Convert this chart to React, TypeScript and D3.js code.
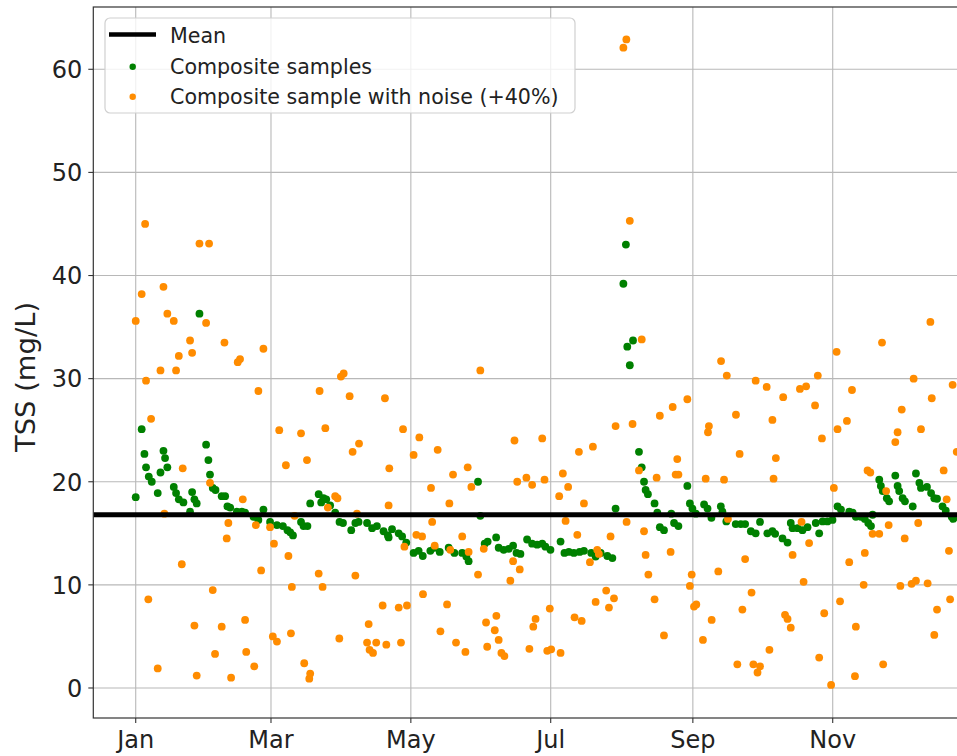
import React from "react";
import * as d3 from "d3";

// ---- Data (day offsets from 1 Jan, TSS in mg/L) ----
const compositeDays = [
  0, 2.6, 3.8, 4.5, 5.7, 7.0, 9.6, 10.8, 12.1, 12.8, 13.8, 16.6, 17.6, 18.8, 20.8, 23.7, 24.6, 25.6, 26.6, 27.8,
  30.7, 31.7, 32.4, 33.6, 34.8, 37.5, 39.0, 40.0, 41.2, 44.1, 46.3, 47.7, 51.4, 53.5, 55.7, 58.6, 61.6, 64.2, 66.2, 67.4,
  68.6, 72.1, 73.2, 74.9, 76.1, 79.8, 80.9, 81.9, 83.1, 84.8, 87.0, 88.9, 90.4, 94.0, 95.8, 97.2, 100.9, 103.1, 105.2, 108.1,
  110.0, 110.3, 111.8, 114.7, 116.2, 118.0, 121.2, 123.4, 125.2, 128.5, 130.3, 132.6, 136.5, 139.0, 142.4, 144.2, 145.2, 149.3, 150.3, 152.2,
  153.5, 157.2, 158.3, 160.5, 162.7, 164.6, 166.1, 167.8, 170.7, 172.9, 175.1, 177.3, 178.7, 180.9, 185.3, 187.0, 188.9, 191.1, 193.6, 195.5,
  198.7, 200.6, 202.8, 205.7, 207.9, 209.3, 212.7, 213.8, 214.4, 215.5, 216.9, 219.5, 220.7, 221.7, 222.4, 223.4, 226.3, 227.5, 228.6, 230.4,
  233.6, 234.8, 236.7, 240.6, 241.7, 242.8, 244.3, 247.9, 249.4, 251.1, 255.2, 255.9, 257.6, 261.7, 263.9, 265.8, 268.3, 270.4, 272.3, 275.5,
  277.7, 278.9, 282.1, 284.3, 285.7, 286.5, 288.7, 290.8, 293.0, 296.6, 298.1, 299.6, 301.7, 303.9, 306.1, 307.6, 311.2, 312.7, 314.1, 316.3,
  318.0, 319.5, 320.7, 321.4, 324.3, 325.0, 325.8, 327.6, 328.6, 331.3, 332.3, 333.0, 334.5, 335.5, 338.9, 340.3, 341.8, 342.5, 345.1, 346.9,
  348.3, 349.5, 351.9, 353.3, 355.9, 356.6,
];
const compositeTSS = [
  18.5, 25.1, 22.7, 21.4, 20.5, 20.0, 18.9, 20.9, 23.0, 22.3, 21.4, 19.5, 18.9, 18.3, 18.0, 17.1, 19.0, 18.3, 17.9, 36.3,
  23.6, 22.1, 20.7, 19.4, 19.2, 18.6, 18.6, 17.6, 17.5, 17.1, 17.1, 17.0, 16.6, 16.3, 17.3, 16.1, 15.8, 15.7, 15.3, 15.1,
  14.8, 16.1, 15.7, 15.7, 17.9, 18.8, 18.0, 18.4, 18.3, 17.7, 17.0, 16.1, 16.0, 15.3, 16.0, 16.1, 16.0, 15.5, 15.7, 15.2,
  14.8, 14.6, 15.4, 15.0, 14.7, 14.1, 13.1, 13.3, 12.8, 13.3, 13.6, 13.2, 13.6, 13.1, 13.1, 12.75, 12.3, 20.0, 16.7, 14.0,
  14.2, 14.6, 13.6, 13.4, 13.5, 13.8, 13.1, 13.0, 14.4, 14.0, 13.9, 14.0, 13.7, 13.4, 14.2, 13.1, 13.2, 13.1, 13.2, 13.3,
  13.1, 12.75, 13.1, 12.8, 12.6, 17.4, 39.2, 43.0, 33.1, 31.3, 33.7, 22.9, 21.4, 20.0, 19.2, 18.8, 17.9, 17.0, 15.6, 15.3,
  16.9, 16.0, 15.7, 19.6, 17.9, 17.4, 16.9, 17.8, 17.4, 16.5, 17.6, 17.1, 16.15, 15.9, 15.9, 15.9, 15.2, 15.0, 16.1, 15.0,
  15.2, 14.95, 14.5, 14.1, 16.0, 15.5, 15.5, 15.3, 15.6, 16.0, 15.0, 16.15, 16.15, 16.3, 17.6, 17.3, 17.1, 17.0, 16.6, 16.6,
  16.4, 16.0, 15.7, 16.8, 20.2, 19.6, 19.1, 18.4, 18.1, 20.6, 19.6, 19.1, 18.4, 18.1, 17.6, 20.8, 19.9, 19.4, 19.5, 18.9,
  18.4, 18.35, 17.6, 17.2, 16.6, 16.4,
];

const noisyDays = [
  4.1, 27.8, 32.0, 2.6, 12.1, 13.8, 16.6, 0, 30.7, 23.7, 24.6, 18.8, 10.8, 17.6, 4.5, 38.7, 44.5, 45.5, 55.7, 53.5,
  80.2, 89.5, 90.7, 93.3, 108.7, 6.7, 62.6, 72.1, 82.7, 65.5, 74.7, 94.6, 97.4, 110.6, 20.5, 32.4, 46.7, 87.0, 88.0, 83.8,
  110.3, 12.5, 96.5, 69.3, 40.4, 52.4, 58.6, 39.7, 60.3, 66.6, 20.1, 54.7, 79.8, 95.8, 68.1, 81.5, 33.6, 5.5, 107.7, 25.6,
  37.5, 47.7, 101.6, 59.8, 61.6, 67.7, 88.8, 100.9, 104.9, 109.3, 102.0, 103.5, 34.6, 48.2, 51.7, 73.5, 76.1, 75.7, 9.6, 26.6,
  41.6, 214.0, 212.7, 215.5, 220.7, 150.3, 116.6, 121.2, 123.7, 131.7, 128.8, 138.4, 144.8, 146.4, 136.8, 129.3, 122.4, 124.9, 117.2, 130.4,
  137.2, 142.4, 145.2, 151.8, 149.3, 165.2, 177.3, 166.4, 170.4, 172.9, 178.3, 186.3, 188.6, 184.7, 193.3, 199.4, 209.3, 216.7, 228.6, 234.2,
  236.2, 235.5, 236.7, 227.2, 219.5, 195.5, 187.5, 214.1, 221.7, 192.6, 207.1, 233.3, 222.4, 201.3, 198.1, 202.0, 223.6, 164.6, 167.5, 163.4,
  205.2, 208.6, 200.6, 206.4, 226.3, 125.3, 135.8, 114.7, 118.3, 180.6, 191.4, 194.5, 174.4, 173.4, 157.3, 152.8, 156.6, 158.3, 159.5, 160.8,
  132.9, 139.7, 143.8, 153.3, 171.7, 179.5, 181.2, 185.3, 230.4, 115.7, 346.6, 325.5, 305.7, 255.3, 257.8, 270.4, 275.2, 282.4, 289.7, 292.4,
  297.5, 312.4, 339.3, 356.3, 347.2, 240.6, 296.3, 261.8, 277.7, 250.0, 249.6, 299.3, 310.2, 306.1, 334.1, 332.3, 331.3, 342.5, 358.1, 263.4,
  279.2, 248.6, 256.6, 278.2, 319.2, 320.4, 352.4, 304.5, 327.3, 353.7, 258.3, 290.4, 328.4, 341.3, 321.4, 324.3, 293.7, 335.4, 286.5, 318.0,
  354.7, 265.8, 311.2, 242.5, 254.1, 241.7, 291.3, 317.5, 333.5, 338.4, 340.3, 345.4, 268.6, 243.5, 244.5, 264.6, 307.2, 355.2, 349.5, 251.2,
  283.2, 284.3, 300.3, 285.7, 314.1, 348.3, 247.4, 276.4, 298.1, 262.4, 269.4, 272.3, 271.2, 326.0, 313.7, 303.3,
];
const noisyTSS = [
  45.0, 43.1, 43.1, 38.2, 38.9, 36.3, 35.6, 35.6, 35.4, 33.7, 32.5, 32.2, 30.8, 30.8, 29.8, 33.5, 31.6, 31.9, 32.9, 28.8,
  28.8, 30.2, 30.5, 28.3, 28.1, 26.1, 25.0, 24.7, 25.2, 21.6, 22.1, 22.9, 23.7, 21.3, 21.3, 19.9, 18.3, 18.6, 18.4, 17.5,
  17.7, 16.9, 16.9, 16.7, 16.0, 15.8, 15.6, 14.5, 14.0, 12.8, 12.0, 11.4, 11.1, 10.9, 9.8, 9.8, 9.5, 8.6, 8.0, 6.05,
  5.95, 6.6, 6.2, 5.0, 4.5, 5.3, 4.8, 4.4, 4.4, 4.2, 3.7, 3.4, 3.3, 3.5, 2.1, 2.4, 1.4, 0.9, 1.9, 1.2,
  1.0, 62.9, 62.1, 45.3, 33.8, 30.8, 25.1, 22.6, 24.3, 23.1, 19.4, 20.7, 21.4, 19.5, 17.9, 16.1, 14.85, 14.7, 13.7, 13.8,
  13.4, 14.7, 13.2, 13.5, 11.0, 24.0, 24.2, 20.0, 20.4, 19.7, 20.2, 20.8, 19.5, 18.6, 22.9, 23.4, 25.4, 25.6, 26.4, 27.25,
  22.2, 20.7, 20.7, 20.4, 21.1, 17.9, 16.2, 16.1, 15.2, 14.85, 14.7, 13.2, 12.9, 13.4, 12.2, 13.0, 11.0, 12.3, 11.5, 10.4,
  9.45, 8.7, 8.35, 7.8, 8.6, 9.1, 8.1, 7.8, 8.0, 7.7, 6.85, 6.5, 6.7, 5.95, 7.0, 6.35, 5.6, 4.66, 3.4, 3.1,
  5.5, 4.4, 3.5, 4.0, 3.8, 3.6, 3.75, 3.4, 5.1, 4.4, 35.5, 33.5, 32.6, 31.7, 30.3, 29.8, 29.2, 28.2, 29.0, 29.25,
  30.3, 28.9, 30.0, 29.4, 28.1, 28.0, 27.4, 26.5, 26.0, 25.4, 24.8, 24.2, 25.9, 25.1, 27.0, 24.8, 23.85, 25.1, 22.9, 22.7,
  22.3, 20.3, 20.2, 20.3, 21.1, 20.9, 21.1, 19.4, 19.1, 18.3, 16.4, 16.1, 15.8, 16.0, 14.95, 14.95, 14.05, 14.5, 12.9, 13.1,
  13.3, 12.5, 12.2, 11.0, 11.3, 9.9, 10.3, 10.0, 9.9, 10.1, 10.4, 10.15, 9.25, 7.9, 8.1, 7.6, 8.4, 8.6, 7.6, 6.6,
  7.1, 6.7, 7.25, 5.85, 5.95, 5.15, 4.66, 3.7, 2.95, 2.3, 2.3, 2.1, 1.5, 2.3, 1.15, 0.3,
];

const meanTSS = 16.8;
const yTicks = [0, 10, 20, 30, 40, 50, 60];
const legendLabels = ["Mean", "Composite samples", "Composite sample with noise (+40%)"];
const yLabel = "TSS (mg/L)";

const X_START_DAY = -18.5;
const X_END_DAY = 377.4;
const Y_MIN = -2.91;
const Y_MAX = 66.04;

const GREEN = "#008000";
const ORANGE = "#ff8c00";
const FONT = "DejaVu Sans, Verdana, sans-serif";

const base = Date.UTC(2021, 0, 1);
const dateAt = (d: number) => new Date(base + d * 86400000);

export default function App() {
  const W = 957;
  const H = 756;
  const left = 93.3;
  const right = 1001;
  const top = 7;
  const bottom = 718;

  const x = d3.scaleUtc().domain([dateAt(X_START_DAY), dateAt(X_END_DAY)]).range([left, right]);
  const y = d3.scaleLinear().domain([Y_MIN, Y_MAX]).range([bottom, top]);

  // month ticks every two months; keep only those whose label fits the visible picture
  const xTicks = x.ticks(d3.utcMonth.every(2) as any).filter((t) => x(t) + 25 <= W);
  const fmt = d3.utcFormat("%b");

  const green = compositeDays.map((d, i) => ({ x: x(dateAt(d)), y: y(compositeTSS[i]) }));
  const orange = noisyDays.map((d, i) => ({ x: x(dateAt(d)), y: y(noisyTSS[i]) }));

  const gridColor = "#b8b8b8";

  return (
    <div>
      <style>{`body{margin:0;background:#fff}`}</style>
      <svg width={W} height={H} style={{ display: "block", background: "#fff" }} fontFamily={FONT}>
        <defs>
          <clipPath id="plot">
            <rect x={left} y={top} width={right - left} height={bottom - top} />
          </clipPath>
        </defs>
        {/* grid */}
        <g>
          {yTicks.map((t) => (
            <line key={"gy" + t} x1={left} x2={right} y1={y(t)} y2={y(t)} stroke={gridColor} strokeWidth={1.1} />
          ))}
          {xTicks.map((t, i) => (
            <line key={"gx" + i} x1={x(t)} x2={x(t)} y1={top} y2={bottom} stroke={gridColor} strokeWidth={1.1} />
          ))}
        </g>
        <g clipPath="url(#plot)">
          {green.map((p, i) => (
            <circle key={"g" + i} cx={p.x} cy={p.y} r={3.9} fill={GREEN} />
          ))}
          {orange.map((p, i) => (
            <circle key={"o" + i} cx={p.x} cy={p.y} r={3.9} fill={ORANGE} />
          ))}
          <line x1={left} x2={right} y1={y(meanTSS)} y2={y(meanTSS)} stroke="#000" strokeWidth={4.8} />
        </g>
        {/* frame */}
        <rect x={left} y={top} width={right - left} height={bottom - top} fill="none" stroke="#333" strokeWidth={1.2} />
        {/* y axis */}
        <g>
          {yTicks.map((t) => (
            <g key={"yt" + t}>
              <line x1={left - 5} x2={left} y1={y(t)} y2={y(t)} stroke="#333" strokeWidth={1.1} />
              <text x={left - 11} y={y(t) + 8.8} textAnchor="end" fontSize={24} fill="#222">
                {t}
              </text>
            </g>
          ))}
          <text
            transform={`translate(35, 377) rotate(-90)`}
            textAnchor="middle"
            fontSize={27.4}
            fill="#222"
          >
            {yLabel}
          </text>
        </g>
        {/* x axis */}
        <g>
          {xTicks.map((t, i) => (
            <g key={"xt" + i}>
              <line x1={x(t)} x2={x(t)} y1={bottom} y2={bottom + 5} stroke="#333" strokeWidth={1.1} />
              <text x={x(t)} y={748} textAnchor="middle" fontSize={24} fill="#222">
                {fmt(t)}
              </text>
            </g>
          ))}
        </g>
        {/* legend */}
        <g>
          <rect x={105} y={18} width={470} height={95} rx={5} fill="#fff" fillOpacity={0.8} stroke="#d0d0d0" strokeWidth={1.2} />
          <line x1={109} x2={156} y1={34.5} y2={34.5} stroke="#000" strokeWidth={4.6} />
          <text x={170} y={43} fontSize={20.6} fill="#222">{legendLabels[0]}</text>
          <circle cx={132.7} cy={66.7} r={3.2} fill={GREEN} />
          <text x={170} y={74} fontSize={20.6} fill="#222">{legendLabels[1]}</text>
          <circle cx={132.7} cy={96.7} r={3.2} fill={ORANGE} />
          <text x={170} y={103.5} fontSize={20.6} fill="#222">{legendLabels[2]}</text>
        </g>
      </svg>
    </div>
  );
}
